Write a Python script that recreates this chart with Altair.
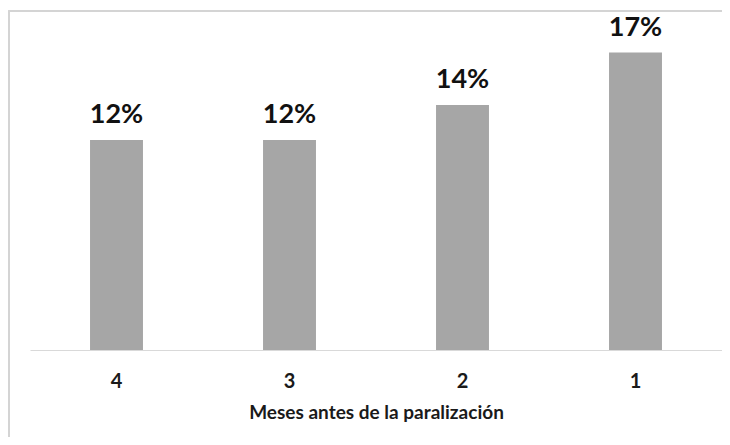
import altair as alt
import pandas as pd

months = ["4", "3", "2", "1"]
values = [12, 12, 14, 17]
labels = ["12%", "12%", "14%", "17%"]

df = pd.DataFrame({"mes": months, "valor": values, "etiqueta": labels})

FONT = "Lato"

x_enc = alt.X(
    "mes:N",
    sort=months,
    title="Meses antes de la paralización",
    scale=alt.Scale(paddingInner=0.694, paddingOuter=0.347),
    axis=alt.Axis(
        labelAngle=0,
        labelFont=FONT,
        labelFontSize=20,
        labelFontWeight="bold",
        labelColor="#1a1a1a",
        labelPadding=21,
        ticks=False,
        domainColor="#d9d9d9",
        domainWidth=1,
        titleFont=FONT,
        titleFontSize=19,
        titleFontWeight="bold",
        titleColor="#1a1a1a",
        titlePadding=12,
    ),
)
y_enc = alt.Y("valor:Q", scale=alt.Scale(domain=[0, 18]), axis=None)

frame = alt.Chart(df).mark_rect(
    fill="transparent", stroke="#d4d4d4", strokeWidth=1.5
).encode(
    x=alt.value(-21), x2=alt.value(760), y=alt.value(-24), y2=alt.value(440)
)

bars = alt.Chart(df).mark_bar(color="#a6a6a6").encode(x=x_enc, y=y_enc)

text = alt.Chart(df).mark_text(
    font=FONT, fontSize=27, fontWeight="bold", color="#111111",
    baseline="alphabetic", dy=-17
).encode(x=x_enc, y=y_enc, text="etiqueta:N")

chart = (
    alt.layer(frame, bars, text)
    .properties(
        width=692,
        height=315,
        background="white",
        autosize=alt.AutoSizeParams(type="none"),
        padding={"left": 22, "top": 27, "right": 0, "bottom": 87},
    )
    .configure_view(strokeWidth=0, stroke="transparent")
)

chart.save("out.html", embed_options={"renderer": "svg", "actions": False})
